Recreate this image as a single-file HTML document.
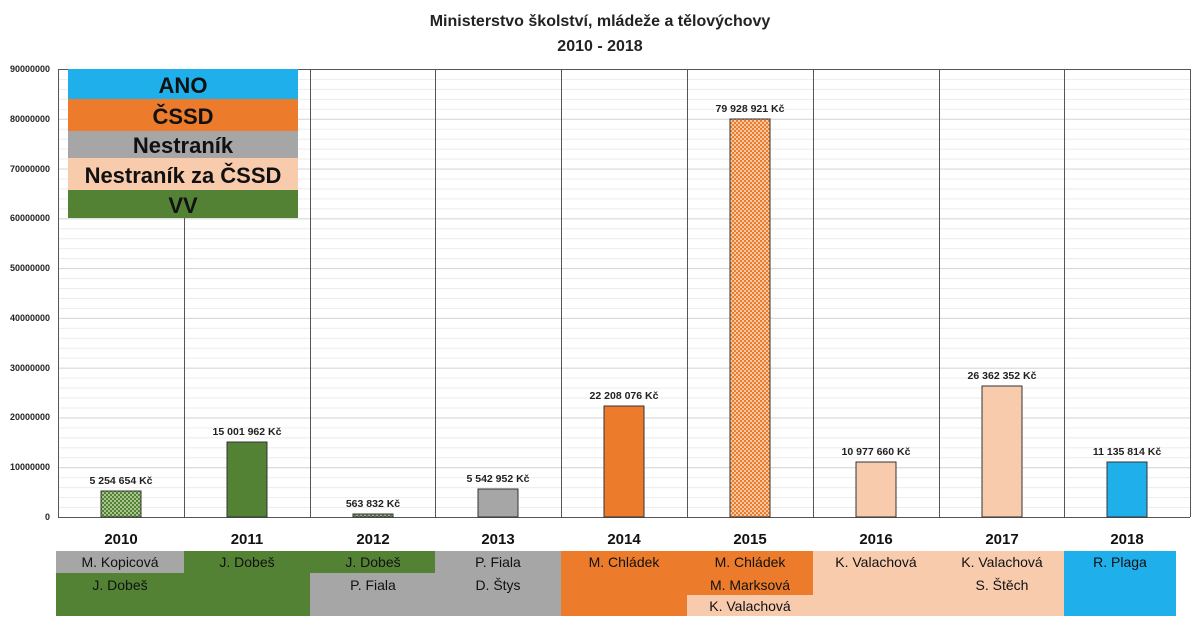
<!DOCTYPE html>
<html><head><meta charset="utf-8"><style>
body{margin:0;background:#fff;}
svg{display:block;font-family:"Liberation Sans",sans-serif;}
</style></head><body>
<svg width="1200" height="623" viewBox="0 0 1200 623" xmlns="http://www.w3.org/2000/svg">
<defs>
<pattern id="pg" width="4" height="4" patternUnits="userSpaceOnUse"><rect width="4" height="4" fill="#a9c48e"/><rect width="2" height="2" fill="#548235"/><rect x="2" y="2" width="2" height="2" fill="#548235"/></pattern>
<pattern id="po" width="4" height="4" patternUnits="userSpaceOnUse"><rect width="4" height="4" fill="#f6c9a6"/><rect width="2" height="2" fill="#ec7c2b"/><rect x="2" y="2" width="2" height="2" fill="#ec7c2b"/></pattern>
<pattern id="pm" width="4" height="4" patternUnits="userSpaceOnUse"><rect width="4" height="4" fill="#a6a6a6"/><rect width="2" height="2" fill="#548235"/><rect x="2" y="2" width="2" height="2" fill="#548235"/></pattern>
<pattern id="gmin" x="0" y="517" width="1200" height="9.956" patternUnits="userSpaceOnUse"><rect x="0" y="0" width="1200" height="1" fill="#ececec"/></pattern>
<pattern id="gmaj" x="0" y="517" width="1200" height="49.78" patternUnits="userSpaceOnUse"><rect x="0" y="0" width="1200" height="1" fill="#d6d6d6"/></pattern>
</defs>
<rect width="1200" height="623" fill="#fff"/>
<text x="600" y="26" text-anchor="middle" font-size="16" font-weight="bold" fill="#222">Ministerstvo školství, mládeže a tělovýchovy</text>
<text x="600" y="51" text-anchor="middle" font-size="16" font-weight="bold" fill="#222">2010 - 2018</text>
<rect x="58" y="70" width="1132" height="447" fill="url(#gmin)"/>
<rect x="58" y="70" width="1132" height="447" fill="url(#gmaj)"/>
<g stroke="#555" stroke-width="1">
<line x1="58.5" x2="58.5" y1="69" y2="517"/>
<line x1="184.5" x2="184.5" y1="69" y2="517"/>
<line x1="310.5" x2="310.5" y1="69" y2="517"/>
<line x1="435.5" x2="435.5" y1="69" y2="517"/>
<line x1="561.5" x2="561.5" y1="69" y2="517"/>
<line x1="687.5" x2="687.5" y1="69" y2="517"/>
<line x1="813.5" x2="813.5" y1="69" y2="517"/>
<line x1="939.5" x2="939.5" y1="69" y2="517"/>
<line x1="1064.5" x2="1064.5" y1="69" y2="517"/>
<line x1="1190.5" x2="1190.5" y1="69" y2="517"/>
<line x1="58" x2="1190" y1="69.5" y2="69.5"/>
<line x1="58" x2="1190" y1="517.5" y2="517.5"/>
</g>
<g font-size="9" font-weight="bold" fill="#222" text-anchor="end">
<text x="50" y="72">90000000</text><text x="50" y="122">80000000</text><text x="50" y="172">70000000</text><text x="50" y="221">60000000</text><text x="50" y="271">50000000</text><text x="50" y="321">40000000</text><text x="50" y="371">30000000</text><text x="50" y="420">20000000</text><text x="50" y="470">10000000</text><text x="50" y="520">0</text>
</g>
<g stroke="#333" stroke-width="1">
<rect x="101" y="491" width="40" height="26" fill="url(#pg)"/>
<rect x="227" y="442" width="40" height="75" fill="#548235"/>
<rect x="353" y="514" width="40" height="3" fill="url(#pm)"/>
<rect x="478" y="489" width="40" height="28" fill="#a6a6a6"/>
<rect x="604" y="406" width="40" height="111" fill="#ec7c2b"/>
<rect x="730" y="119" width="40" height="398" fill="url(#po)"/>
<rect x="856" y="462" width="40" height="55" fill="#f8cbad"/>
<rect x="982" y="386" width="40" height="131" fill="#f8cbad"/>
<rect x="1107" y="462" width="40" height="55" fill="#1fb0ec"/>
</g>
<g font-size="10.5" font-weight="bold" fill="#222" text-anchor="middle">
<text x="121" y="484">5 254 654 Kč</text>
<text x="247" y="435">15 001 962 Kč</text>
<text x="373" y="507">563 832 Kč</text>
<text x="498" y="482">5 542 952 Kč</text>
<text x="624" y="399">22 208 076 Kč</text>
<text x="750" y="112">79 928 921 Kč</text>
<text x="876" y="455">10 977 660 Kč</text>
<text x="1002" y="379">26 362 352 Kč</text>
<text x="1127" y="455">11 135 814 Kč</text>
</g>
<rect x="68" y="69" width="230" height="30" fill="#1fb0ec"/>
<rect x="68" y="99" width="230" height="32" fill="#ec7c2b"/>
<rect x="68" y="131" width="230" height="27" fill="#a6a6a6"/>
<rect x="68" y="158" width="230" height="32" fill="#f8cbad"/>
<rect x="68" y="190" width="230" height="28" fill="#548235"/>
<g font-size="22" font-weight="bold" fill="#111" text-anchor="middle">
<text x="183" y="93">ANO</text><text x="183" y="124">ČSSD</text><text x="183" y="153">Nestraník</text><text x="183" y="183">Nestraník za ČSSD</text><text x="183" y="213">VV</text>
</g>
<g font-size="15" font-weight="bold" fill="#111" text-anchor="middle">
<text x="121" y="544">2010</text><text x="247" y="544">2011</text><text x="373" y="544">2012</text><text x="498" y="544">2013</text><text x="624" y="544">2014</text><text x="750" y="544">2015</text><text x="876" y="544">2016</text><text x="1002" y="544">2017</text><text x="1127" y="544">2018</text>
</g>
<rect x="56" y="551" width="128" height="22" fill="#a6a6a6"/>
<rect x="56" y="573" width="128" height="43" fill="#548235"/>
<rect x="184" y="551" width="126" height="65" fill="#548235"/>
<rect x="310" y="551" width="125" height="22" fill="#548235"/>
<rect x="310" y="573" width="125" height="43" fill="#a6a6a6"/>
<rect x="435" y="551" width="126" height="65" fill="#a6a6a6"/>
<rect x="561" y="551" width="126" height="65" fill="#ec7c2b"/>
<rect x="687" y="551" width="126" height="44" fill="#ec7c2b"/>
<rect x="687" y="595" width="126" height="21" fill="#f8cbad"/>
<rect x="813" y="551" width="251" height="65" fill="#f8cbad"/>
<rect x="1064" y="551" width="112" height="65" fill="#1fb0ec"/>
<g font-size="14" fill="#111" text-anchor="middle">
<text x="120" y="567">M. Kopicová</text><text x="120" y="590">J. Dobeš</text>
<text x="247" y="567">J. Dobeš</text>
<text x="373" y="567">J. Dobeš</text><text x="373" y="590">P. Fiala</text>
<text x="498" y="567">P. Fiala</text><text x="498" y="590">D. Štys</text>
<text x="624" y="567">M. Chládek</text>
<text x="750" y="567">M. Chládek</text><text x="750" y="590">M. Marksová</text><text x="750" y="611">K. Valachová</text>
<text x="876" y="567">K. Valachová</text>
<text x="1002" y="567">K. Valachová</text><text x="1002" y="590">S. Štěch</text>
<text x="1120" y="567">R. Plaga</text>
</g>
</svg>
</body></html>
